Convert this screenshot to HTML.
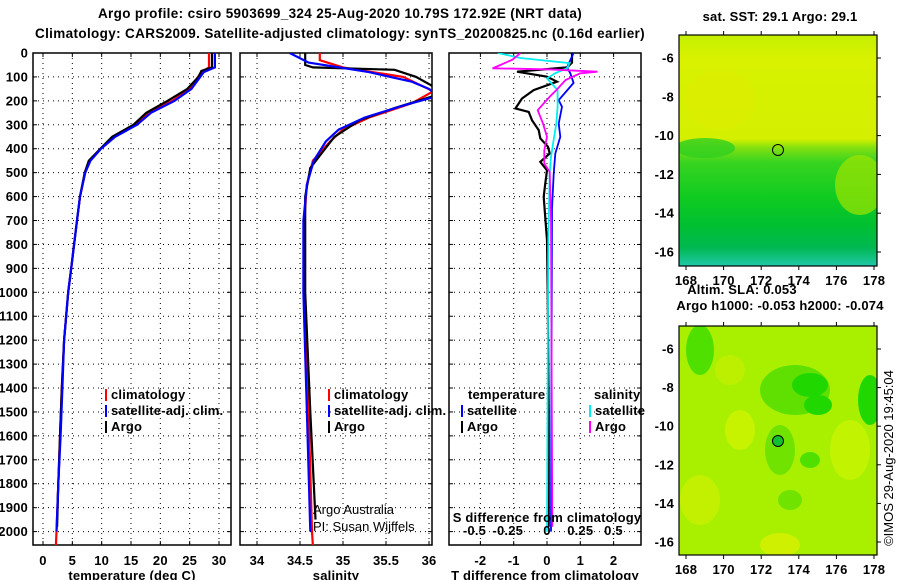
<!DOCTYPE html>
<html><head><meta charset="utf-8">
<style>
body{margin:0;background:#fff;}
svg{display:block;font-family:"Liberation Sans",sans-serif;}
.t{font-weight:bold;font-size:13px;letter-spacing:0.2px;}
.h{font-weight:bold;font-size:13.5px;letter-spacing:0.35px;}
</style></head>
<body>
<svg id="c" width="900" height="580" viewBox="0 0 900 580">
<text x="340" y="18" text-anchor="middle" class="h">Argo profile: csiro 5903699_324 25-Aug-2020 10.79S 172.92E (NRT data)</text>
<text x="340" y="38" text-anchor="middle" class="h">Climatology: CARS2009. Satellite-adjusted climatology: synTS_20200825.nc (0.16d earlier)</text>
<g id="plots"></g>
<g id="maps"></g>
<text transform="translate(893,458) rotate(-90)" text-anchor="middle" font-size="13">©IMOS 29-Aug-2020 19:45:04</text>
</svg>
<script>
// ---- data ----
const tempClimDepth=[0,60,80,150,200,250,300,350,400,450,500,600,700,800,900,1000,1200,1400,1600,1800,2000,2060];
const tempClim=[28.3,28.3,27.0,25.0,22.0,18.0,15.8,12.0,9.8,8.0,7.2,6.3,5.8,5.3,4.8,4.3,3.6,3.2,2.9,2.6,2.3,2.2];
const tempSatDepth=[0,60,80,150,200,250,300,350,400,450,500,600,700,800,900,1000,1200,1400,1600,1800,2000];
const tempSat=[29.3,29.3,27.4,25.3,22.4,18.4,16.0,12.3,9.9,8.1,7.2,6.3,5.8,5.3,4.8,4.3,3.6,3.3,3.0,2.6,2.3];
const tempArgoDepth=[0,60,75,100,150,200,250,300,350,400,450,500,600,700,800,900,1000,1200,1400,1600,1800,1980];
const tempArgo=[28.8,28.8,27.0,26.5,24.6,21.2,17.6,15.4,11.8,9.8,7.8,7.1,6.3,5.8,5.3,4.8,4.3,3.6,3.2,2.9,2.6,2.4];

const salClimDepth=[0,30,60,100,160,210,270,320,370,450,550,700,1000,1500,2000,2060];
const salClim=[34.73,34.73,35.0,35.7,36.05,35.8,35.3,35.0,34.85,34.65,34.58,34.55,34.55,34.6,34.64,34.65];
const salSatDepth=[0,40,80,120,150,180,220,270,320,370,450,550,700,1000,1500,2000];
const salSat=[34.38,34.6,35.3,35.8,36.0,36.1,35.7,35.25,34.95,34.8,34.66,34.58,34.54,34.54,34.58,34.62];
const salArgoDepth=[0,50,60,70,100,140,180,230,280,350,420,480,600,1000,1500,1950];
const salArgo=[34.56,34.56,34.65,35.6,35.85,36.05,36.05,35.6,35.2,34.9,34.75,34.62,34.56,34.56,34.62,34.68];

const dTArgoDepth=[0,40,60,78,99,120,155,190,232,246,281,322,357,392,420,455,490,545,601,782,1000,1500,1980];
const dTArgo=[0.75,0.75,0.6,-0.9,0,0.3,-0.4,-0.75,-0.95,-0.55,-0.45,-0.25,-0.2,0.03,0.08,-0.2,0,-0.05,-0.1,0,0.02,0.05,0.05];
const dTSatDepth=[0,60,85,125,197,225,295,350,420,505,650,2000];
const dTSat=[0.8,0.6,0.7,0.8,0.35,0.45,0.35,0.4,0.25,0.2,0.15,0.12];
const dSArgoDepth=[0,28,50,64,68,78,85,113,155,183,239,295,350,406,462,497,700,1980];
const dSArgo=[-0.2,-0.26,-0.35,-0.41,0,0.38,0.25,0.14,0.07,0.02,-0.07,-0.03,0,-0.02,-0.02,0.02,0.03,0.04];
const dSSatDepth=[0,21,42,64,85,106,155,225,295,364,434,504,782,2000];
const dSSat=[-0.37,-0.2,0.17,0.15,0.06,0,0.08,0.08,0.07,0.05,0.03,0.02,0.01,0];

const depthTicks=[0,100,200,300,400,500,600,700,800,900,1000,1100,1200,1300,1400,1500,1600,1700,1800,1900,2000];
const tempTicks=[0,5,10,15,20,25,30];
const salTicks=[34,34.5,35,35.5,36];
const dTTicks=[-2,-1,0,1,2];
const dSTicks=[-0.5,-0.25,0,0.25,0.5];
const lonTicks=[168,170,172,174,176,178];
const latTicks=[-6,-8,-10,-12,-14,-16];

// ---- helpers ----
const NS="http://www.w3.org/2000/svg";
function mk(tag,attrs,parent,text){const e=document.createElementNS(NS,tag);for(const k in attrs)e.setAttribute(k,attrs[k]);if(text!==undefined)e.textContent=text;parent.appendChild(e);return e;}
const yTop=53, yBot=545;
const yD=d=>yTop+d*0.2393;
const xT=t=>43+t*5.867;
const xS=s=>257+(s-34)*86;
const xDT=d=>547+d*33.3;
const xDS=s=>547+s*133;
const plots=document.getElementById('plots');

const panels=[{l:33,r:231,xs:xT,ticks:tempTicks,lab:'temperature (deg C)',name:'temperature'},
 {l:240,r:432,xs:xS,ticks:salTicks,lab:'salinity',name:'salinity'},
 {l:449,r:641,xs:xDT,ticks:dTTicks,lab:'T difference from climatology',name:'difference'}];
panels.forEach((p,i)=>{
  const g=mk('g',{},plots);
  
  
  const cp=mk('clipPath',{id:'cp'+i},g);mk('rect',{x:p.l,y:yTop,width:p.r-p.l,height:yBot-yTop},cp);
  depthTicks.forEach(d=>{
    const y=yD(d);
    const gl=mk('line',{x1:p.l,x2:p.r,y1:y,y2:y,stroke:'#000','stroke-width':1,'stroke-dasharray':'1,4'},g);
    
    
    mk('line',{x1:p.l,x2:p.l+4,y1:y,y2:y,stroke:'#000'},g);
    mk('line',{x1:p.r-4,x2:p.r,y1:y,y2:y,stroke:'#000'},g);
    if(i===0){const t=mk('text',{x:28,y:y+4.5,'text-anchor':'end',class:'t'},g,String(d));
      
      }
  });
  p.ticks.forEach(v=>{
    const x=p.xs(v);
    const gl=mk('line',{x1:x,x2:x,y1:yTop,y2:yBot,stroke:'#000','stroke-dasharray':'1,4'},g);
    
    
    mk('line',{x1:x,x2:x,y1:yTop,y2:yTop+4,stroke:'#000'},g);
    mk('line',{x1:x,x2:x,y1:yBot-4,y2:yBot,stroke:'#000'},g);
    const t=mk('text',{x:x,y:yBot+20,'text-anchor':'middle',class:'t'},g,String(v));
    
    
  });
  const fr=mk('rect',{x:p.l,y:yTop,width:p.r-p.l,height:yBot-yTop,fill:'none',stroke:'#000','stroke-width':1.5},g);
  
  
  const xl=mk('text',{x:(p.l+p.r)/2,y:yBot+35,'text-anchor':'middle',class:'t'},g,p.lab);
  
  
  p.g=mk('g',{'clip-path':'url(#cp'+i+')'},g);
});
function line(parent,xs,vals,depths,color,name,w){
  const pts=vals.map((v,k)=>xs(v).toFixed(1)+','+yD(depths[k]).toFixed(1)).join(' ');
  const e=mk('polyline',{points:pts,fill:'none',stroke:color,'stroke-width':w||2.2},parent);
  
  
}
line(panels[0].g,xT,tempClim,tempClimDepth,'#f00','temp-climatology-line');
line(panels[0].g,xT,tempArgo,tempArgoDepth,'#000','temp-argo-line');
line(panels[0].g,xT,tempSat,tempSatDepth,'#00f','temp-satellite-line');
line(panels[1].g,xS,salClim,salClimDepth,'#f00','sal-climatology-line');
line(panels[1].g,xS,salArgo,salArgoDepth,'#000','sal-argo-line');
line(panels[1].g,xS,salSat,salSatDepth,'#00f','sal-satellite-line');
line(panels[2].g,xDT,dTArgo,dTArgoDepth,'#000','dT-argo-line');
line(panels[2].g,xDT,dTSat,dTSatDepth,'#00f','dT-satellite-line',1.8);
line(panels[2].g,xDS,dSSat,dSSatDepth,'#0ee','dS-satellite-line',1.8);
line(panels[2].g,xDS,dSArgo,dSArgoDepth,'#f0f','dS-argo-line',1.8);

// S tick labels inside panel 3
dSTicks.forEach(v=>{const t=mk('text',{x:xDS(v)+(v<0?-6:0),y:535,'text-anchor':'middle',class:'t'},plots,String(v));
  
  });
{const t=mk('text',{x:547,y:522,'text-anchor':'middle',class:'t'},plots,'S difference from climatology');
  
  }

// legends
function leg(x,y,color,label){const g=mk('g',{},plots);
  
  
  mk('line',{x1:x,x2:x,y1:y-10,y2:y+2,stroke:color,'stroke-width':2},g);
  mk('text',{x:x+5,y:y,class:'t'},g,label);}
leg(106,399,'#f00','climatology');leg(106,415,'#00f','satellite-adj. clim.');leg(106,431,'#000','Argo');
leg(329,399,'#f00','climatology');leg(329,415,'#00f','satellite-adj. clim.');leg(329,431,'#000','Argo');
{const t=mk('text',{x:468,y:399,class:'t'},plots,'temperature');
 const s=mk('text',{x:594,y:399,class:'t'},plots,'salinity');}
leg(462,415,'#00f','satellite');leg(462,431,'#000','Argo');
leg(590,415,'#0ee','satellite');leg(590,431,'#f0f','Argo');
{const a=mk('text',{x:313,y:514,'font-size':'13'},plots,'Argo Australia');
 const b=mk('text',{x:313,y:531,'font-size':'13'},plots,'PI: Susan Wijffels');}

// maps
const maps=document.getElementById('maps');
const mapDefs=[{y0:35,y1:266,lat6:58,lat16:252,title:['sat. SST: 29.1 Argo: 29.1'],ty:[21],name:'sst-map',cy:150},
 {y0:326,y1:555,lat6:349,lat16:542,title:['Altim. SLA: 0.053','Argo h1000: -0.053 h2000: -0.074'],ty:[294,310],tx:[742,780],name:'sla-map',cy:441}];
const defs=mk('defs',{},maps);
const lg=mk('linearGradient',{id:'sstg',x1:0,y1:0,x2:0,y2:1},defs);
[[0,'#c4f000'],[0.1,'#d8f200'],[0.45,'#d4f000'],[0.49,'#80e010'],[0.55,'#38d420'],[0.7,'#10cc20'],[0.82,'#00c030'],[0.92,'#00b850'],[1,'#20c8a8']].forEach(s=>mk('stop',{offset:s[0],'stop-color':s[1]},lg));
const xL=l=>686+(l-168)*18.8;
mapDefs.forEach((m,i)=>{
  const g=mk('g',{},maps);
  
  
  const cp=mk('clipPath',{id:'mc'+i},g);mk('rect',{x:679,y:m.y0,width:198,height:m.y1-m.y0},cp);
  const ig=mk('g',{'clip-path':'url(#mc'+i+')'},g);
  if(i===0){mk('rect',{x:679,y:m.y0,width:198,height:m.y1-m.y0,fill:'url(#sstg)'},ig);
    mk('ellipse',{cx:860,cy:185,rx:25,ry:30,fill:'#a0e400',opacity:0.7},ig);
    mk('ellipse',{cx:705,cy:148,rx:30,ry:10,fill:'#30d020',opacity:0.8},ig);
    mk('ellipse',{cx:720,cy:100,rx:35,ry:30,fill:'#e0ec00',opacity:0.5},ig);}
  else{mk('rect',{x:679,y:m.y0,width:198,height:m.y1-m.y0,fill:'#a8f000'},ig);
    [[700,350,14,25,'#50e000'],[795,390,35,25,'#60e000'],[810,385,18,12,'#20d800'],[818,405,14,10,'#20d800'],[870,400,12,25,'#20d800'],[780,450,15,25,'#70e400'],[790,500,12,10,'#70e400'],[810,460,10,8,'#50e000']].forEach(b=>mk('ellipse',{cx:b[0],cy:b[1],rx:b[2],ry:b[3],fill:b[4]},ig));
    [[740,430,15,20,'#d0f400'],[850,450,20,30,'#c8f400'],[780,545,20,12,'#d8f000'],[700,500,20,25,'#c8f000'],[730,370,15,15,'#c0f000']].forEach(b=>mk('ellipse',{cx:b[0],cy:b[1],rx:b[2],ry:b[3],fill:b[4],opacity:0.8},ig));}
  mk('rect',{x:679,y:m.y0,width:198,height:m.y1-m.y0,fill:'none',stroke:'#000','stroke-width':1.2},g);
  const c=mk('circle',{cx:778,cy:m.cy,r:5.5,fill:i?'#10c030':'none',stroke:'#000'},g);
  
  
  lonTicks.forEach(l=>{const x=xL(l);mk('line',{x1:x,x2:x,y1:m.y0-4,y2:m.y0,stroke:'#000'},g);mk('line',{x1:x,x2:x,y1:m.y1,y2:m.y1+4,stroke:'#000'},g);
    const t=mk('text',{x:x,y:m.y1+19,'text-anchor':'middle',class:'t'},g,String(l));
    
    });
  latTicks.forEach(la=>{const y=m.lat6+(la+6)/-10*(m.lat16-m.lat6);mk('line',{x1:877,x2:881,y1:y,y2:y,stroke:'#000'},g);
    const t=mk('text',{x:674,y:y+4.5,'text-anchor':'end',class:'t'},g,String(la));
    
    });
  m.title.forEach((tt,k)=>{const t=mk('text',{x:m.tx?m.tx[k]:780,y:m.ty[k],'text-anchor':'middle',class:'t'},g,tt);
    
    });
});
</script>
</body></html>
